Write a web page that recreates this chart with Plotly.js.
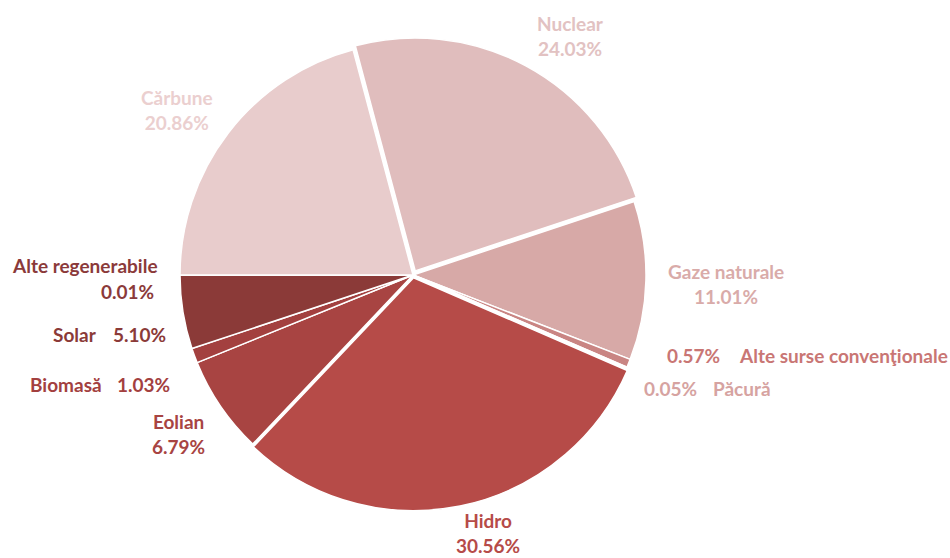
<!DOCTYPE html>
<html>
<head>
<meta charset="utf-8">
<script src="https://cdn.plot.ly/plotly-3.0.1.min.js"></script>
<style>html,body{margin:0;padding:0;background:#fff;}#chart{width:950px;height:558px;}</style>
</head>
<body>
<div id="chart"></div>
<script>
// Data (clockwise from Nuclear)
const labels = ["Nuclear", "Gaze naturale", "Alte surse convenţionale", "Păcură", "Hidro", "Eolian", "Biomasă", "Solar", "Alte regenerabile", "Cărbune"];
const values = [24.03, 11.01, 0.57, 0.05, 30.56, 6.79, 1.03, 5.10, 0.01, 20.86];
const sliceColors = ["#E0BDBD", "#D7A9A7", "#C98583", "#C98A88", "#B64B48", "#A84442", "#A3403F", "#8B3A38", "#8B3A3A", "#E8CCCC"];
const labelColors = ["#E2C2C2", "#D9ABA9", "#C97674", "#D6A3A1", "#B64B48", "#A84442", "#A3403F", "#8B3A38", "#8B3A3A", "#EBCFCF"];
const pulls = [0.02, 0, 0, 0, 0.012, 0, 0, 0, 0, 0];

const W = 950, H = 558;
const px = x => x / W;
const py = y => 1 - y / H;
const pct = v => v.toFixed(2) + "%";

const place = {
  "Nuclear":      {mode: "stack", x: 570, y: 36},
  "Cărbune":      {mode: "stack", x: 177, y: 110},
  "Gaze naturale":{mode: "stack", x: 726, y: 284},
  "Hidro":        {mode: "stack", x: 488, y: 533},
  "Eolian":       {mode: "stack", x: 178, y: 434},
  "Alte regenerabile": {mode: "stackR", x: 160, x2: 156, y: 266, y2: 291},
  "Solar":        {mode: "row", xl: 99, xv: 111, y: 334},
  "Biomasă":      {mode: "row", xl: 104, xv: 115, y: 384},
  "Alte surse convenţionale": {mode: "rowR", xv: 665, xl: 737, y: 355},
  "Păcură":       {mode: "rowR", xv: 642, xl: 711, y: 388}
};

const font = (c) => ({family: "Lato, 'Open Sans', sans-serif", size: 19, color: c, weight: "bold"});
const annotations = [];
labels.forEach((lab, i) => {
  const p = place[lab];
  const c = labelColors[i];
  const base = {xref: "paper", yref: "paper", showarrow: false, yanchor: "middle"};
  if (p.mode === "stack") {
    annotations.push(Object.assign({}, base, {x: px(p.x), y: py(p.y), xanchor: "center", align: "center",
      text: "<b>" + lab + "<br>" + pct(values[i]) + "</b>", font: font(c)}));
  } else if (p.mode === "stackR") {
    annotations.push(Object.assign({}, base, {x: px(p.x), y: py(p.y), xanchor: "right", text: "<b>" + lab + "</b>", font: font(c)}));
    annotations.push(Object.assign({}, base, {x: px(p.x2), y: py(p.y2), xanchor: "right", text: "<b>" + pct(values[i]) + "</b>", font: font(c)}));
  } else if (p.mode === "row") {
    annotations.push(Object.assign({}, base, {x: px(p.xl), y: py(p.y), xanchor: "right", text: "<b>" + lab + "</b>", font: font(c)}));
    annotations.push(Object.assign({}, base, {x: px(p.xv), y: py(p.y), xanchor: "left", text: "<b>" + pct(values[i]) + "</b>", font: font(c)}));
  } else {
    annotations.push(Object.assign({}, base, {x: px(p.xv), y: py(p.y), xanchor: "left", text: "<b>" + pct(values[i]) + "</b>", font: font(c)}));
    annotations.push(Object.assign({}, base, {x: px(p.xl), y: py(p.y), xanchor: "left", text: "<b>" + lab + "</b>", font: font(c)}));
  }
});

const cx = 413, cy = 275, R = 233 * 1.02;
const trace = {
  type: "pie",
  labels: labels,
  values: values,
  sort: false,
  direction: "clockwise",
  rotation: -14.9,
  pull: pulls,
  textinfo: "none",
  hoverinfo: "label+percent",
  marker: {colors: sliceColors, line: {color: "#ffffff", width: 1.5}},
  domain: {x: [px(cx - R), px(cx + R)], y: [py(cy + R), py(cy - R)]},
  showlegend: false
};

const layout = {
  width: W, height: H,
  margin: {l: 0, r: 0, t: 0, b: 0},
  paper_bgcolor: "#ffffff",
  showlegend: false,
  annotations: annotations
};
Plotly.newPlot("chart", [trace], layout, {displayModeBar: false, staticPlot: true});
</script>
</body>
</html>
